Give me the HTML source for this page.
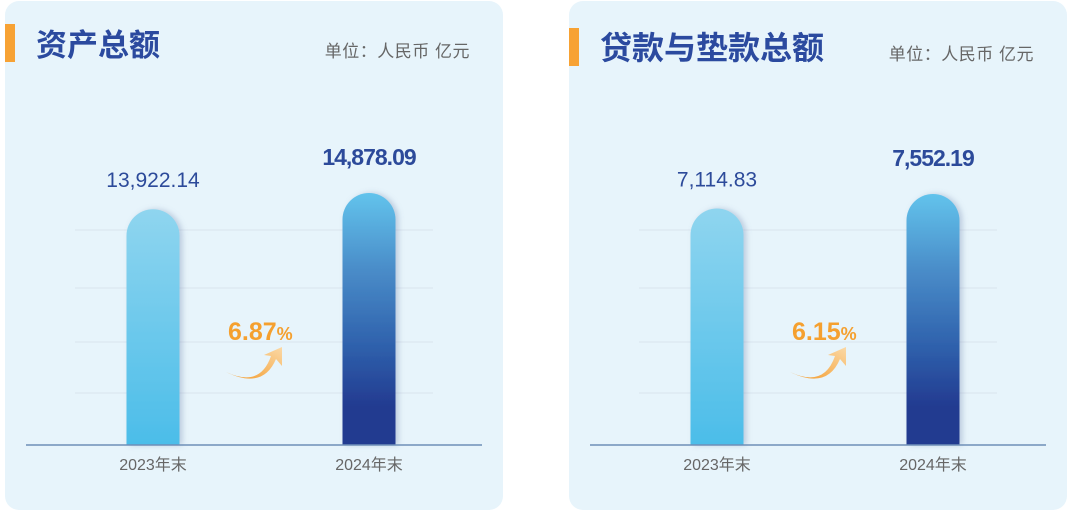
<!DOCTYPE html>
<html><head><meta charset="utf-8"><style>
body{margin:0;width:1068px;height:511px;background:#fff;overflow:hidden;font-family:"Liberation Sans","Noto Sans CJK SC",sans-serif}
.card{position:absolute;top:1px;width:498px;height:509px;background:#e7f4fb;border-radius:14px}
svg{position:absolute;left:0;top:0}
</style></head><body>
<div class="card" style="left:5px"></div>
<div class="card" style="left:569px"></div>
<svg id="s" width="1068" height="511">
<defs>
<linearGradient id="g1" x1="0" y1="0" x2="0" y2="1"><stop offset="0" stop-color="#8fd5ef"/><stop offset="1" stop-color="#4bbde9"/></linearGradient>
<linearGradient id="g2" x1="0" y1="0" x2="0" y2="1"><stop offset="0" stop-color="#62c3ec"/><stop offset="0.3" stop-color="#4a8dc9"/><stop offset="0.6" stop-color="#2f62ad"/><stop offset="0.85" stop-color="#233a90"/><stop offset="1" stop-color="#233a90"/></linearGradient>
<linearGradient id="ga" x1="0" y1="1" x2="1" y2="0"><stop offset="0" stop-color="#f39a2a"/><stop offset="1" stop-color="#fbd9a6"/></linearGradient>
<filter id="sh" x="-30%" y="-10%" width="160%" height="120%"><feDropShadow dx="3" dy="0" stdDeviation="3" flood-color="#6a7fa8" flood-opacity="0.35"/></filter>
</defs>
</svg>
<script>
const categories=["2023年末","2024年末"];
const assetValues=[13922.14,14878.09];
const assetLabels=["13,922.14","14,878.09"];
const assetGrowth="6.87";
const loanValues=[7114.83,7552.19];
const loanLabels=["7,114.83","7,552.19"];
const loanGrowth="6.15";
const svg=document.getElementById('s');const NS="http://www.w3.org/2000/svg";
function mk(t,a,p){const e=document.createElementNS(NS,t);for(const k in a)e.setAttribute(k,a[k]);(p||svg).appendChild(e);return e;}
function chart(ox,title,vals,labels,growth,maxH,prefix,titleY,barY,tsize){
 const g=mk('g',{});
 
 
 const accent=mk('rect',{x:ox,y:barY,width:10,height:38,fill:'#f7a234'},g);
 
 
 const t=mk('text',{x:ox+31,y:titleY,'font-size':tsize,'font-weight':'bold',fill:'#2b4a9f'},g);t.textContent=title;
 
 
 const u=mk('text',{x:ox+465,y:titleY+1,'font-size':17,fill:'#666','text-anchor':'end','letter-spacing':0.5},g);u.textContent='单位：人民币  亿元';
 
 
 const base=445;const scale=maxH/Math.max(...vals);
 const y=v=>base-v*scale;
 [230,288,342,393].forEach(gy=>{const l=mk('line',{x1:ox+70,x2:ox+428,y1:gy,y2:gy,stroke:'#d9e4ee','stroke-width':1},g);
  
  });
 const xs=[ox+148,ox+364];
 vals.forEach((v,i)=>{
  const top=y(v),w=53,x=xs[i]-w/2,r=w/2;
  const p=mk('path',{d:`M${x},${base}V${top+r}A${r},${r} 0 0 1 ${x+w},${top+r}V${base}Z`,fill:i?'url(#g2)':'url(#g1)',filter:'url(#sh)'},g);
  
  
  const lt=mk('text',{x:xs[i],y:top-(i?28:22),'font-size':i?23:21,'font-weight':i?'bold':'normal',fill:'#2c4a9a','text-anchor':'middle','letter-spacing':i?-1:0},g);lt.textContent=labels[i];
  
  
  const ct=mk('text',{x:xs[i],y:470,'font-size':16,fill:'#666','text-anchor':'middle'},g);ct.textContent=categories[i];
  
  
 });
 const ax=mk('line',{x1:ox+21,x2:ox+477,y1:base,y2:base,stroke:'#6f8fb8','stroke-width':1.5},g);
 
 
 const gt=mk('text',{x:ox+223,y:340,'font-size':25,'font-weight':'bold',fill:'#f5a02f'},g);
 gt.innerHTML=growth+'<tspan font-size="18">%</tspan>';
 
 
 const ar=mk('path',{d:`M${ox+221},${372} Q${ox+255},${388} ${ox+266},${356} L${ox+259},${355} L${ox+277},${347} L${ox+277},${366} L${ox+271},${359} Q${ox+258},${390} ${ox+221},${372}Z`,fill:'url(#ga)'},g);
 
 
}
chart(5,'资产总额',assetValues,assetLabels,assetGrowth,252,'assets',56,24,31);
chart(569,'贷款与垫款总额',loanValues,loanLabels,loanGrowth,251,'loans',59,28,32);
</script>
</body></html>
